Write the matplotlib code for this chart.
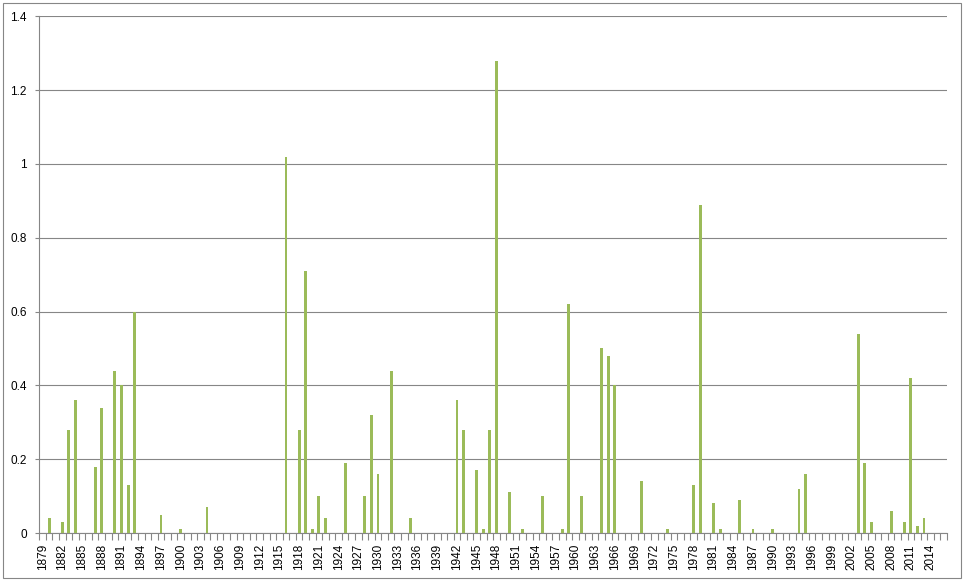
import matplotlib
matplotlib.use('Agg')
import matplotlib.pyplot as plt
from matplotlib.patches import Rectangle
from matplotlib.ticker import FixedLocator

# one category per year, 1879..2016
years = list(range(1879, 2017))

values = (
    [0.00]                                                            # 1879
    + [0.04, 0.00, 0.03, 0.28, 0.36, 0.00, 0.00, 0.18, 0.34, 0.00]    # 1880s
    + [0.44, 0.40, 0.13, 0.60, 0.00, 0.00, 0.00, 0.05, 0.00, 0.00]    # 1890s
    + [0.01, 0.00, 0.00, 0.00, 0.07, 0.00, 0.00, 0.00, 0.00, 0.00]    # 1900s
    + [0.00, 0.00, 0.00, 0.00, 0.00, 0.00, 1.02, 0.00, 0.28, 0.71]    # 1910s
    + [0.01, 0.10, 0.04, 0.00, 0.00, 0.19, 0.00, 0.00, 0.10, 0.32]    # 1920s
    + [0.16, 0.00, 0.44, 0.00, 0.00, 0.04, 0.00, 0.00, 0.00, 0.00]    # 1930s
    + [0.00, 0.00, 0.36, 0.28, 0.00, 0.17, 0.01, 0.28, 1.28, 0.00]    # 1940s
    + [0.11, 0.00, 0.01, 0.00, 0.00, 0.10, 0.00, 0.00, 0.01, 0.62]    # 1950s
    + [0.00, 0.10, 0.00, 0.00, 0.50, 0.48, 0.40, 0.00, 0.00, 0.00]    # 1960s
    + [0.14, 0.00, 0.00, 0.00, 0.01, 0.00, 0.00, 0.00, 0.13, 0.89]    # 1970s
    + [0.00, 0.08, 0.01, 0.00, 0.00, 0.09, 0.00, 0.01, 0.00, 0.00]    # 1980s
    + [0.01, 0.00, 0.00, 0.00, 0.12, 0.16, 0.00, 0.00, 0.00, 0.00]    # 1990s
    + [0.00, 0.00, 0.00, 0.54, 0.19, 0.03, 0.00, 0.00, 0.06, 0.00]    # 2000s
    + [0.03, 0.42, 0.02, 0.04, 0.00, 0.00, 0.00]                      # 2010s
)

label_step = 3
y_ticks = [0, 0.2, 0.4, 0.6, 0.8, 1, 1.2, 1.4]
y_labels = ['0', '0.2', '0.4', '0.6', '0.8', '1', '1.2', '1.4']

bar_color = '#9BBB59'
grey = '#868686'

plt.rcParams['font.family'] = ['Liberation Sans', 'DejaVu Sans']

W, H = 965, 581
fig = plt.figure(figsize=(W / 100, H / 100), dpi=100)
ax = fig.add_axes([39.3 / W, (H - 533) / H, (947 - 39.3) / W, (533 - 16.3) / H])

x = list(range(len(years)))
ax.bar(x, values, width=0.44, color=bar_color, linewidth=0, zorder=3)

ax.set_xlim(-0.5, len(years) - 0.5)
ax.set_ylim(0, 1.4)

# x axis: labels every 3rd year, tick marks between categories
ax.xaxis.set_major_locator(FixedLocator(x[::label_step]))
ax.set_xticklabels([str(y) for y in years[::label_step]], rotation=90,
                   fontsize=8.5, va='top')
ax.xaxis.set_minor_locator(FixedLocator([i - 0.5 for i in range(len(years) + 1)]))
ax.tick_params(axis='x', which='major', length=0, pad=8)
ax.tick_params(axis='x', which='minor', length=5, width=0.8, color=grey, direction='out')

ax.set_yticks(y_ticks)
ax.set_yticklabels(y_labels, fontsize=8.5)
ax.tick_params(axis='y', length=3, width=0.8, color=grey, pad=6)

ax.yaxis.grid(True, color=grey, linewidth=0.8)
ax.set_axisbelow(True)

for side in ('top', 'right'):
    ax.spines[side].set_visible(False)
for side in ('left', 'bottom'):
    ax.spines[side].set_color(grey)
    ax.spines[side].set_linewidth(0.8)

# chart area border
fig.patches.append(Rectangle((2.5 / W, (H - 577.5) / H), (960.5 - 2.5) / W, (577.5 - 2.5) / H,
                             transform=fig.transFigure, fill=False,
                             edgecolor=grey, linewidth=0.8))

fig.savefig('out.png', dpi=100)
